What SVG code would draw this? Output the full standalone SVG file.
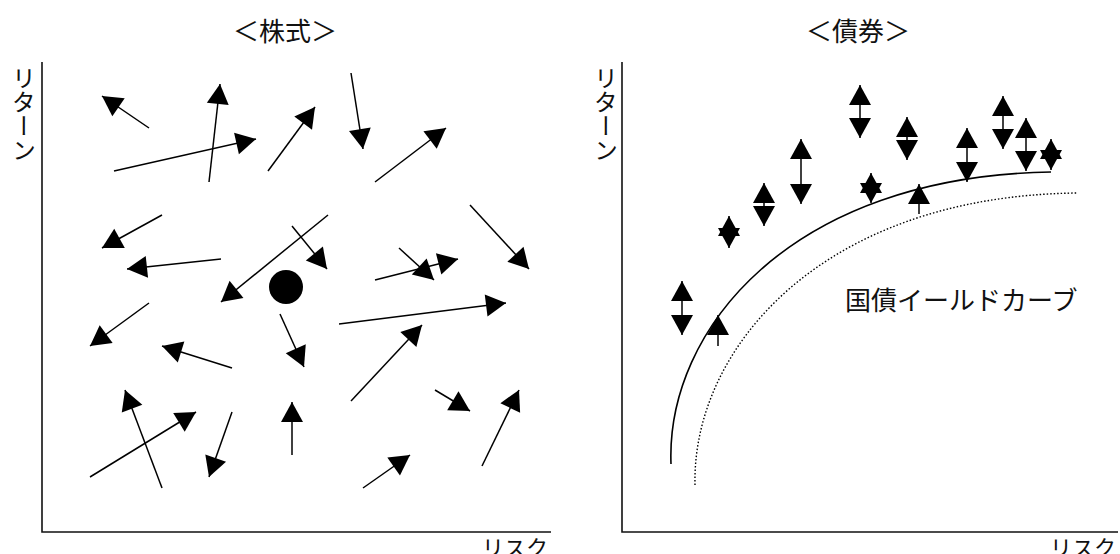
<svg xmlns="http://www.w3.org/2000/svg" width="1120" height="554" viewBox="0 0 1120 554">
  <style>
    .lbl { font-family: "Noto Sans CJK JP", "Noto Sans", sans-serif; fill: #111; }
    .axis { stroke: #111; stroke-width: 1.6; fill: none; }
    .arr { stroke: #000; stroke-width: 1.5; fill: none; marker-end: url(#head); }
    .dbl { stroke: #000; stroke-width: 1.5; fill: none; marker-end: url(#head); marker-start: url(#headS); }
    .vt { writing-mode: vertical-rl; }
  </style>
  <defs>
    <marker id="head" markerUnits="userSpaceOnUse" markerWidth="20" markerHeight="22" refX="20" refY="11" orient="auto" overflow="visible">
      <path d="M0,0 L20,11 L0,22 z" fill="#000"/>
    </marker>
    <marker id="headS" markerUnits="userSpaceOnUse" markerWidth="20" markerHeight="22" refX="20" refY="11" orient="auto-start-reverse" overflow="visible">
      <path d="M0,0 L20,11 L0,22 z" fill="#000"/>
    </marker>
  </defs>

  <!-- Titles -->
  <g id="title-stocks"><text class="lbl" x="285" y="41" font-size="26" text-anchor="middle">＜株式＞</text></g>
  <g id="title-bonds"><text class="lbl" x="858" y="41" font-size="26" text-anchor="middle">＜債券＞</text></g>

  <!-- Left panel axes -->
  <g id="axes-left">
    <path class="axis" d="M42,62 L42,532 L551,532"/>
    <text class="lbl vt" x="24" y="66" font-size="24">リターン</text>
    <text class="lbl" x="482" y="556" font-size="22">リスク</text>
  </g>

  <!-- Right panel axes -->
  <g id="axes-right">
    <path class="axis" d="M622,62 L622,532 L1118,532"/>
    <text class="lbl vt" x="606" y="66" font-size="24">リターン</text>
    <text class="lbl" x="1050" y="556" font-size="22">リスク</text>
  </g>

  <!-- Yield curves -->
  <g id="curve-solid">
    <path d="M671,464 C666,330 790,176 1051,172" stroke="#000" stroke-width="1.6" fill="none"/>
  </g>
  <g id="curve-dotted">
    <path d="M695,485 C692,350 820,196 1077,193" stroke="#000" stroke-width="1.4" stroke-dasharray="1.5,2" fill="none"/>
  </g>
  <g id="label-curve"><text class="lbl" x="845" y="310" font-size="26">国債イールドカーブ</text></g>

  <!-- Stock mean dot -->
  <g id="dot"><ellipse cx="286" cy="287" rx="17" ry="17" fill="#000"/></g>

  <!-- Stock arrows -->
  <g id="connectors-stocks">
    <line class="arr" x1="149" y1="128" x2="102" y2="96"/>
    <line class="arr" x1="209" y1="182" x2="220" y2="84"/>
    <line class="arr" x1="114" y1="171" x2="256" y2="139"/>
    <line class="arr" x1="162" y1="215" x2="102" y2="248"/>
    <line class="arr" x1="221" y1="259" x2="127" y2="269"/>
    <line class="arr" x1="328" y1="215" x2="221" y2="302"/>
    <line class="arr" x1="268" y1="171" x2="315" y2="107"/>
    <line class="arr" x1="351" y1="73" x2="363" y2="149"/>
    <line class="arr" x1="375" y1="182" x2="446" y2="128"/>
    <line class="arr" x1="292" y1="226" x2="327" y2="269"/>
    <line class="arr" x1="399" y1="248" x2="434" y2="280"/>
    <line class="arr" x1="375" y1="280" x2="458" y2="259"/>
    <line class="arr" x1="470" y1="205" x2="529" y2="269"/>
    <line class="arr" x1="339" y1="324" x2="506" y2="303"/>
    <line class="arr" x1="149" y1="303" x2="90" y2="346"/>
    <line class="arr" x1="232" y1="368" x2="162" y2="346"/>
    <line class="arr" x1="162" y1="488" x2="125" y2="390"/>
    <line class="arr" x1="90" y1="477" x2="196" y2="412"/>
    <line class="arr" x1="232" y1="412" x2="209" y2="477"/>
    <line class="arr" x1="280" y1="314" x2="304" y2="367"/>
    <line class="arr" x1="351" y1="401" x2="422" y2="325"/>
    <line class="arr" x1="292" y1="455" x2="292" y2="402"/>
    <line class="arr" x1="435" y1="390" x2="470" y2="411"/>
    <line class="arr" x1="482" y1="466" x2="519" y2="390"/>
    <line class="arr" x1="363" y1="488" x2="410" y2="455"/>
  </g>

  <!-- Bond arrows -->
  <g id="connectors-bonds">
    <line class="dbl" x1="682" y1="281" x2="682" y2="335"/>
    <line class="dbl" x1="729" y1="216" x2="729" y2="248"/>
    <line class="dbl" x1="764" y1="183" x2="764" y2="226"/>
    <line class="dbl" x1="801" y1="139" x2="801" y2="204"/>
    <line class="dbl" x1="860" y1="85" x2="860" y2="138"/>
    <line class="dbl" x1="907" y1="117" x2="907" y2="160"/>
    <line class="dbl" x1="871" y1="173" x2="871" y2="203"/>
    <line class="dbl" x1="967" y1="128" x2="967" y2="182"/>
    <line class="dbl" x1="1003" y1="96" x2="1003" y2="149"/>
    <line class="dbl" x1="1026" y1="118" x2="1026" y2="171"/>
    <line class="dbl" x1="1051" y1="139" x2="1051" y2="170"/>
    <line class="arr" x1="718" y1="346" x2="718" y2="315"/>
    <line class="arr" x1="919" y1="214" x2="919" y2="184"/>
  </g>
</svg>
